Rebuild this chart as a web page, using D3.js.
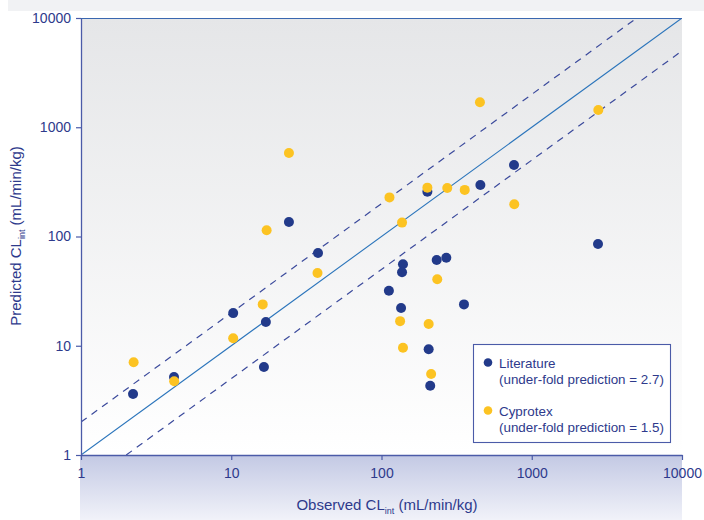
<!DOCTYPE html>
<html>
<head>
<meta charset="utf-8">
<script src="https://cdn.jsdelivr.net/npm/d3@7"></script>
<style>
  html, body { margin: 0; padding: 0; background: #ffffff; }
  svg { display: block; font-family: "Liberation Sans", Arial, Helvetica, sans-serif; }
</style>
</head>
<body>
<svg id="chart" width="704" height="520"></svg>
<script>
// ---- data ----
const tickValues = [1, 10, 100, 1000, 10000];

const literatureObserved  = [2.22, 4.16, 10.3, 17.0, 16.5, 24.2, 37.8, 112, 135, 139, 137, 202, 206, 211, 233, 270, 354, 455, 762, 2760];
const literaturePredicted = [3.62, 5.18, 19.9, 16.5, 6.39, 136, 70.6, 31.9, 22.2, 55.7, 47.0, 257, 9.28, 4.31, 60.9, 64.0, 23.9, 296, 451, 85.4];

const cyprotexObserved  = [2.24, 4.17, 10.3, 16.2, 17.2, 24.2, 37.5, 113, 137, 133, 139, 202, 206, 214, 235, 274, 358, 452, 765, 2774];
const cyprotexPredicted = [7.06, 4.73, 11.7, 23.9, 114, 581, 46.3, 228, 134, 16.8, 9.6, 280, 15.8, 5.51, 40.6, 278, 267, 1692, 197, 1439];

const seriesNames = ["Literature", "Cyprotex"];
const seriesNotes = ["(under-fold prediction = 2.7)", "(under-fold prediction = 1.5)"];
const foldFactors = [1, 2, 0.5];   // line of unity and 2-fold lines

// ---- layout ----
const svg = d3.select("#chart");
const L = 81, R = 682, T = 18, B = 455;
const axisColor = "#4b5ba8";
const textColor = "#2e3a8c";
const colors = ["#223a8a", "#fcc322"];

const x = d3.scaleLog().domain([1, 10000]).range([L, R]);
const y = d3.scaleLog().domain([1, 10000]).range([B, T]);

const defs = svg.append("defs");
const g1 = defs.append("linearGradient").attr("id", "plotbg").attr("x1", 0).attr("y1", 0).attr("x2", 0).attr("y2", 1);
g1.append("stop").attr("offset", "0%").attr("stop-color", "#e5e6e8");
g1.append("stop").attr("offset", "100%").attr("stop-color", "#ffffff");
const g2 = defs.append("linearGradient").attr("id", "bandbg").attr("x1", 0).attr("y1", 0).attr("x2", 0).attr("y2", 1);
g2.append("stop").attr("offset", "0%").attr("stop-color", "#c3c9e4");
g2.append("stop").attr("offset", "100%").attr("stop-color", "#f1f2f9");
defs.append("clipPath").attr("id", "clip").append("rect")
  .attr("x", L).attr("y", T).attr("width", R - L).attr("height", B - T);

// top strip
svg.append("rect").attr("x", 8).attr("y", 0).attr("width", 696).attr("height", 11).attr("fill", "#f1f2f4");
// plot background
svg.append("rect").attr("x", L).attr("y", T).attr("width", R - L).attr("height", B - T).attr("fill", "url(#plotbg)");
// bottom band
svg.append("rect").attr("x", L - 1).attr("y", B).attr("width", R - L + 1).attr("height", 520 - B).attr("fill", "url(#bandbg)");

// reference lines
const lines = svg.append("g").attr("clip-path", "url(#clip)");
foldFactors.forEach(f => {
  const x0 = Math.max(1, 1 / f), x1 = Math.min(10000, 10000 / f);
  lines.append("line")
    .attr("x1", x(x0)).attr("y1", y(x0 * f))
    .attr("x2", x(x1)).attr("y2", y(x1 * f))
    .attr("stroke", f === 1 ? "#2a74bb" : "#3b4a9c")
    .attr("stroke-width", f === 1 ? 1.1 : 1.2)
    .attr("stroke-dasharray", f === 1 ? null : "7,6");
});

// axes
const xAxis = d3.axisBottom(x).tickValues(tickValues).tickFormat(d3.format("d")).tickSize(5).tickSizeOuter(0).tickPadding(8);
const yAxis = d3.axisLeft(y).tickValues(tickValues).tickFormat(d3.format("d")).tickSize(5).tickSizeOuter(0).tickPadding(5);

const gx = svg.append("g").attr("transform", `translate(0,${B})`).call(xAxis);
const gy = svg.append("g").attr("transform", `translate(${L},0)`).call(yAxis);
[gx, gy].forEach(g => {
  g.select(".domain").attr("stroke", axisColor).attr("stroke-width", 1.3);
  g.selectAll(".tick line").attr("stroke", axisColor).attr("stroke-width", 1.2);
  g.selectAll(".tick text").attr("fill", textColor).attr("font-size", 14)
    .attr("font-family", "'Liberation Sans', Arial, sans-serif");
});
// top border
svg.append("line").attr("x1", L).attr("x2", R).attr("y1", T + 0.5).attr("y2", T + 0.5)
  .attr("stroke", "#3a67b0").attr("stroke-width", 1.2);

// points
const litData = literatureObserved.map((v, i) => ({ o: v, p: literaturePredicted[i] }));
const cypData = cyprotexObserved.map((v, i) => ({ o: v, p: cyprotexPredicted[i] }));
[litData, cypData].forEach((data, k) => {
  svg.append("g").selectAll("circle").data(data).join("circle")
    .attr("cx", d => x(d.o)).attr("cy", d => y(d.p)).attr("r", 5)
    .attr("fill", colors[k]);
});

// axis titles
const xt = svg.append("text").attr("x", 387).attr("y", 510).attr("text-anchor", "middle")
  .attr("fill", textColor).attr("font-size", 15);
xt.append("tspan").text("Observed CL");
xt.append("tspan").attr("font-size", 9).attr("dy", 4).text("int");
xt.append("tspan").attr("dy", -4).text(" (mL/min/kg)");

const yt = svg.append("text").attr("transform", "translate(21,236) rotate(-90)").attr("text-anchor", "middle")
  .attr("fill", textColor).attr("font-size", 15);
yt.append("tspan").text("Predicted CL");
yt.append("tspan").attr("font-size", 9).attr("dy", 4).text("int");
yt.append("tspan").attr("dy", -4).text(" (mL/min/kg)");

// legend
const lg = svg.append("g");
lg.append("rect").attr("x", 473.5).attr("y", 344.5).attr("width", 197).attr("height", 98)
  .attr("fill", "#ffffff").attr("stroke", axisColor).attr("stroke-width", 1.1);
seriesNames.forEach((name, k) => {
  const oy = k * 48;
  lg.append("circle").attr("cx", 488).attr("cy", 362.5 + oy).attr("r", 4.3).attr("fill", colors[k]);
  lg.append("text").attr("x", 499).attr("y", 367.5 + oy).attr("fill", textColor).attr("font-size", 13.4).text(name);
  lg.append("text").attr("x", 499).attr("y", 384 + oy).attr("fill", textColor).attr("font-size", 13.4).text(seriesNotes[k]);
});
</script>
</body>
</html>
